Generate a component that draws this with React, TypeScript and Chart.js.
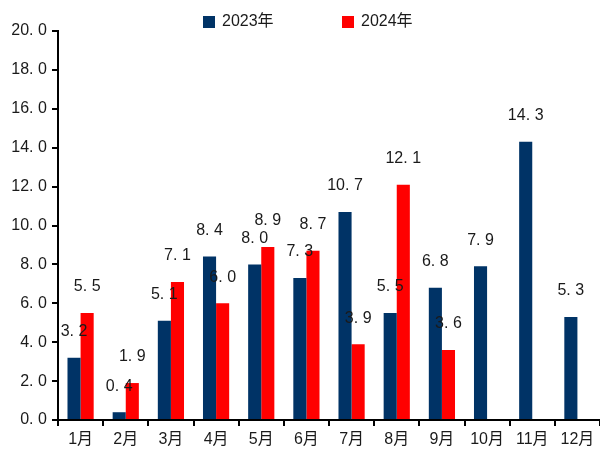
import React, { useEffect, useRef } from "react";
import { Chart, registerables } from "chart.js";

Chart.register(...registerables);

const categories = ["1月", "2月", "3月", "4月", "5月", "6月", "7月", "8月", "9月", "10月", "11月", "12月"];
const series2023 = [3.2, 0.4, 5.1, 8.4, 8.0, 7.3, 10.7, 5.5, 6.8, 7.9, 14.3, 5.3];
const series2024: (number | null)[] = [5.5, 1.9, 7.1, 6.0, 8.9, 8.7, 3.9, 12.1, 3.6, null, null, null];
const seriesNames = ["2023年", "2024年"];
const colors = ["#003366", "#FF0000"];

const SANS = '"Liberation Sans", "Noto Sans CJK SC", sans-serif';
const TEXT = "#1a1a1a";
const DOT_ADV = 9;

// draw number text with a wide period (like the original's font)
function measureSpaced(ctx: CanvasRenderingContext2D, s: string) {
  let w = 0;
  for (const ch of s) w += ch === "." ? DOT_ADV : ctx.measureText(ch).width;
  return w;
}
function drawSpaced(ctx: CanvasRenderingContext2D, s: string, x: number, y: number, align: "center" | "right") {
  const total = measureSpaced(ctx, s);
  let cx = align === "center" ? x - total / 2 : x - total;
  ctx.textAlign = "left";
  for (const ch of s) {
    ctx.fillText(ch, cx, y);
    cx += ch === "." ? DOT_ADV : ctx.measureText(ch).width;
  }
}

const valueLabels = {
  id: "valueLabels",
  afterDatasetsDraw(chart: any) {
    const ctx = chart.ctx;
    ctx.save();
    ctx.font = `16px ${SANS}`;
    ctx.fillStyle = TEXT;
    ctx.textBaseline = "middle";
    chart.data.datasets.forEach((ds: any, i: number) => {
      const meta = chart.getDatasetMeta(i);
      meta.data.forEach((bar: any, j: number) => {
        const v = ds.data[j];
        if (v === null || v === undefined) return;
        drawSpaced(ctx, v.toFixed(1), bar.x, bar.y - 26, "center");
      });
    });
    ctx.restore();
  },
};

const yTickLabels = {
  id: "yTickLabels",
  afterDraw(chart: any) {
    const ctx = chart.ctx;
    const scale = chart.scales.y;
    ctx.save();
    ctx.font = `16px ${SANS}`;
    ctx.fillStyle = TEXT;
    ctx.textBaseline = "middle";
    scale.ticks.forEach((t: any) => {
      const y = scale.getPixelForValue(t.value);
      drawSpaced(ctx, Number(t.value).toFixed(1), 47, y, "right");
    });
    ctx.restore();
  },
};

const customLegend = {
  id: "customLegend",
  afterDraw(chart: any) {
    const ctx = chart.ctx;
    ctx.save();
    ctx.font = `16px ${SANS}`;
    ctx.textBaseline = "middle";
    ctx.textAlign = "left";
    const xs = [203, 342];
    const y = 22;
    seriesNames.forEach((name, i) => {
      ctx.fillStyle = colors[i];
      ctx.fillRect(xs[i], y - 6, 12, 12);
      ctx.fillStyle = TEXT;
      ctx.fillText(name, xs[i] + 19, y);
    });
    ctx.restore();
  },
};

export default function App() {
  const ref = useRef<HTMLCanvasElement>(null);
  useEffect(() => {
    if (!ref.current) return;
    const chart = new Chart(ref.current, {
      type: "bar",
      data: {
        labels: categories,
        datasets: [
          { label: seriesNames[0], data: series2023, backgroundColor: colors[0], categoryPercentage: 0.58, barPercentage: 1 },
          { label: seriesNames[1], data: series2024 as any, backgroundColor: colors[1], categoryPercentage: 0.58, barPercentage: 1 },
        ],
      },
      options: {
        responsive: false,
        animation: false,
        layout: { padding: { top: 31, right: 0, left: 0, bottom: 0 } },
        plugins: { legend: { display: false }, tooltip: { enabled: false } },
        scales: {
          x: {
            grid: { drawOnChartArea: false, drawTicks: true, tickLength: 6, color: "#000", lineWidth: 2, offset: true },
            border: { color: "#000", width: 2 },
            ticks: { color: TEXT, font: { size: 16, family: SANS }, padding: 4, maxRotation: 0, autoSkip: false },
            afterFit: (s: any) => { s.height = 30; },
          },
          y: {
            min: 0,
            max: 20,
            grid: { drawOnChartArea: false, drawTicks: true, tickLength: 6, color: "#000", lineWidth: 2 },
            border: { color: "#000", width: 2 },
            ticks: { stepSize: 2, display: false },
            afterFit: (s: any) => { s.width = 58; },
          },
        },
      },
      plugins: [valueLabels, yTickLabels, customLegend],
    });
    return () => chart.destroy();
  }, []);
  return (
    <div style={{ position: "fixed", left: 0, top: 0, width: 600, height: 450, background: "#fff" }}>
      <canvas ref={ref} width={600} height={450} />
    </div>
  );
}
